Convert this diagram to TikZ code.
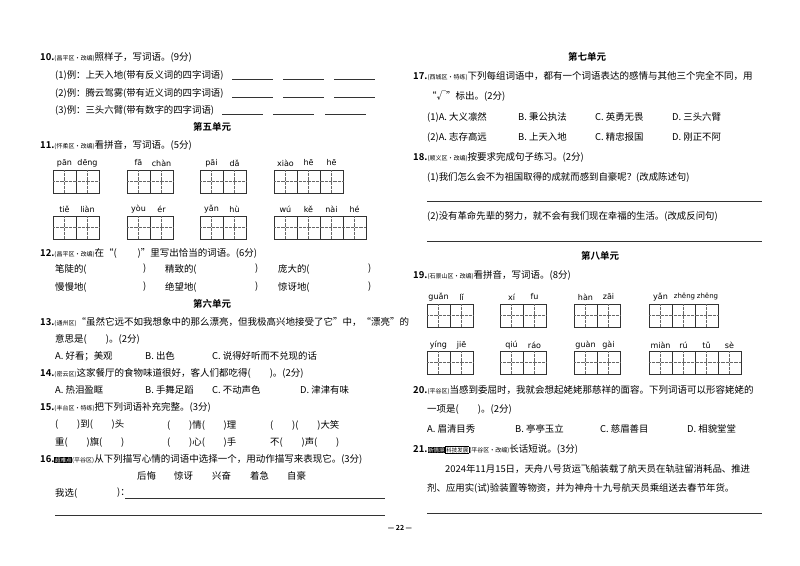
\documentclass[tikz,border=0pt]{standalone}
\usepackage{fontspec}
\setmainfont{Noto Sans CJK SC}[BoldFont={Noto Sans CJK SC Bold}]
\newfontfamily\pyfont{DejaVu Sans}
\newcommand\src[1]{{\fontsize{6}{7}\selectfont(#1)}}
\newcommand\qn[1]{{\bfseries\fontsize{9.5}{11}\selectfont #1}}
\newcommand\hlb[1]{{\setlength{\fboxsep}{0.6pt}\colorbox{black}{\textcolor{white}{\fontsize{5.5}{6}\selectfont #1}}}}
\newcommand\hlo[1]{{\setlength{\fboxsep}{0.6pt}\setlength{\fboxrule}{0.5pt}\fbox{\fontsize{5.5}{6}\selectfont #1}}}
\newcommand\cellrow[3]{%
  \foreach \k in {1,...,#3}{%
    \draw[gridline] ({#1+23*(\k-1)},#2) rectangle ++(23,23);
    \draw[dotline] ({#1+23*(\k-1)+11.5},#2) -- ++(0,23);}
  \draw[dotline] (#1,#2+11.5) -- ++({23*#3},0);}
\tikzset{
  txt/.style={anchor=west,inner sep=0pt,font=\fontsize{9.5}{11}\selectfont},
  opt/.style={anchor=west,inner sep=0pt,font=\fontsize{9.4}{11}\selectfont},
  unit/.style={inner sep=0pt,font=\bfseries\fontsize{9.5}{11}\selectfont},
  py/.style={inner sep=0pt,font=\pyfont\fontsize{8}{9}\selectfont},
  pys/.style={inner sep=0pt,font=\pyfont\fontsize{7}{8}\selectfont},
  gridline/.style={line width=0.7pt,black!80},
  dotline/.style={line width=0.3pt,densely dotted,black!60},
  ans/.style={line width=0.6pt,black!80}
}
\begin{document}
\begin{tikzpicture}[x=1pt,y=-1pt]
\useasboundingbox[fill=white] (0,0) rectangle (800,565);
% ---------------- Left column
\node[txt] (q10) at (40,57) {\qn{10.}\src{昌平区·改编}照样子，写词语。(9分)};
\node[opt] (q10a) at (55,75) {(1)例：上天入地(带有反义词的四字词语)};
\node[opt] (q10b) at (55,93) {(2)例：腾云驾雾(带有近义词的四字词语)};
\node[opt] (q10c) at (55,110) {(3)例：三头六臂(带有数字的四字词语)};
\foreach \xa in {232,283,334}{\draw[ans] (\xa,79) -- ++(41,0); \draw[ans] (\xa,97) -- ++(41,0);}
\foreach \xa in {222,273,325}{\draw[ans] (\xa,114) -- ++(41,0);}
\node[unit] (u5) at (212,127) {第五单元};
\node[txt] (q11) at (40,145) {\qn{11.}\src{怀柔区·改编}看拼音，写词语。(5分)};
\cellrow{53}{170}{2}\cellrow{127}{170}{2}\cellrow{200}{170}{2}\cellrow{274}{170}{3}
\cellrow{53}{216}{2}\cellrow{127}{216}{2}\cellrow{200}{216}{2}\cellrow{274}{216}{4}
\foreach \xa/\s in {64.5/pān,87.5/dēng,138.5/fā,161.5/chàn,211.5/pāi,234.5/dǎ,285.5/xiào,308.5/hē,331.5/hē}
  {\node[py] at (\xa,163) {\s};}
\foreach \xa/\s in {64.5/tiě,87.5/liàn,138.5/yòu,161.5/ér,211.5/yǎn,234.5/hù,285.5/wú,308.5/kě,331.5/nài,354.5/hé}
  {\node[py] at (\xa,209) {\s};}
\node[txt] (q12) at (40,253) {\qn{12.}\src{昌平区·改编}在“(\hspace{2.2em})”里写出恰当的词语。(6分)};
\node[opt] at (55,269) {笔陡的(}; \node[opt] at (143,269) {)};
\node[opt] at (165,269) {精致的(}; \node[opt] at (255,269) {)};
\node[opt] at (278,269) {庞大的(}; \node[opt] at (368,269) {)};
\node[opt] at (55,287) {慢慢地(}; \node[opt] at (143,287) {)};
\node[opt] at (165,287) {绝望地(}; \node[opt] at (255,287) {)};
\node[opt] at (278,287) {惊讶地(}; \node[opt] at (368,287) {)};
\node[unit] (u6) at (212,304) {第六单元};
\node[txt] (q13) at (40,322) {\qn{13.}\src{通州区}“虽然它远不如我想象中的那么漂亮，但我极高兴地接受了它”中，“漂亮”的};
\node[txt] at (55,339) {意思是(\hspace{2em})。(2分)};
\node[opt] at (55,356) {A. 好看；美观}; \node[opt] at (145,356) {B. 出色}; \node[opt] at (212,356) {C. 说得好听而不兑现的话};
\node[txt] (q14) at (40,373) {\qn{14.}\src{密云区}这家餐厅的食物味道很好，客人们都吃得(\hspace{2em})。(2分)};
\node[opt] at (55,390) {A. 热泪盈眶}; \node[opt] at (145,390) {B. 手舞足蹈}; \node[opt] at (212,390) {C. 不动声色}; \node[opt] at (300,390) {D. 津津有味};
\node[txt] (q15) at (40,407) {\qn{15.}\src{丰台区·特练}把下列词语补充完整。(3分)};
\node[opt] at (55,425) {(\hspace{2em})到(\hspace{2em})头};
\node[opt] at (167,425) {(\hspace{2em})情(\hspace{2em})理};
\node[opt] at (270,425) {(\hspace{2em})(\hspace{2em})大笑};
\node[opt] at (55,442) {重(\hspace{2em})旗(\hspace{2em})};
\node[opt] at (167,442) {(\hspace{2em})心(\hspace{2em})手};
\node[opt] at (270,442) {不(\hspace{2em})声(\hspace{2em})};
\node[txt] (q16) at (40,459) {\qn{16.}\hlb{超难点}\src{平谷区}从下列描写心情的词语中选择一个，用动作描写来表现它。(3分)};
\foreach \xa/\s in {137/后悔,174/惊讶,212/兴奋,250/着急,287/自豪}{\node[opt] at (\xa,476) {\s};}
\node[opt] at (55,493) {我选(}; \node[opt] at (117,493) {)：};
\draw[ans] (125,498) -- (385,498);
\draw[ans] (55,515) -- (385,515);
\node[inner sep=0pt,font=\bfseries\fontsize{7}{8}\selectfont] (pg) at (400,528) {— 22 —};
% ---------------- Right column
\node[unit] (u7) at (587,57) {第七单元};
\node[txt] (q17) at (413,76) {\qn{17.}\src{西城区·特练}下列每组词语中，都有一个词语表达的感情与其他三个完全不同，用};
\node[txt] at (427,96) {“√”标出。(2分)};
\node[opt] at (427,117) {(1)A. 大义凛然}; \node[opt] at (518,117) {B. 秉公执法}; \node[opt] at (595,117) {C. 英勇无畏}; \node[opt] at (672,117) {D. 三头六臂};
\node[opt] at (427,137) {(2)A. 志存高远}; \node[opt] at (518,137) {B. 上天入地}; \node[opt] at (595,137) {C. 精忠报国}; \node[opt] at (672,137) {D. 刚正不阿};
\node[txt] (q18) at (413,157) {\qn{18.}\src{顺义区·改编}按要求完成句子练习。(2分)};
\node[opt] at (427,177) {(1)我们怎么会不为祖国取得的成就而感到自豪呢？(改成陈述句)};
\draw[ans] (427,201) -- (762,201);
\node[opt] at (427,216) {(2)没有革命先辈的努力，就不会有我们现在幸福的生活。(改成反问句)};
\draw[ans] (427,241) -- (762,241);
\node[unit] (u8) at (600,256) {第八单元};
\node[txt] (q19) at (413,275) {\qn{19.}\src{石景山区·改编}看拼音，写词语。(8分)};
\cellrow{427}{304}{2}\cellrow{500}{304}{2}\cellrow{574}{304}{2}\cellrow{649}{304}{3}
\cellrow{427}{351}{2}\cellrow{500}{351}{2}\cellrow{574}{351}{2}\cellrow{649}{351}{4}
\foreach \xa/\s in {438.5/guǎn,461.5/lǐ,511.5/xí,534.5/fu,585.5/hàn,608.5/zāi,660.5/yǎn}
  {\node[py] at (\xa,297) {\s};}
\node[pys] at (684.5,297) {zhēng}; \node[pys] at (707.5,297) {zhēng};
\foreach \xa/\s in {438.5/yíng,461.5/jiē,511.5/qiú,534.5/ráo,585.5/guàn,608.5/gài,660.5/miàn,683.5/rú,706.5/tǔ,729.5/sè}
  {\node[py] at (\xa,345) {\s};}
\node[txt] (q20) at (413,390) {\qn{20.}\src{平谷区}当感到委屈时，我就会想起姥姥那慈祥的面容。下列词语可以形容姥姥的};
\node[txt] at (427,410) {一项是(\hspace{2em})。(2分)};
\node[opt] at (427,429) {A. 眉清目秀}; \node[opt] at (515,429) {B. 亭亭玉立}; \node[opt] at (600,429) {C. 慈眉善目}; \node[opt] at (687,429) {D. 相貌堂堂};
\node[txt] (q21) at (413,449) {\qn{21.}\hlb{新情境}\hlo{科技发展}\src{平谷区·改编}长话短说。(3分)};
\node[opt,text width=317pt,align=justify] at (445,469) {2024年11月15日，天舟八号货运飞船装载了航天员在轨驻留消耗品、推进};
\node[opt] at (427,488) {剂、应用实(试)验装置等物资，并为神舟十九号航天员乘组送去春节年货。};
\draw[ans] (427,513) -- (762,513);
\end{tikzpicture}
\end{document}
